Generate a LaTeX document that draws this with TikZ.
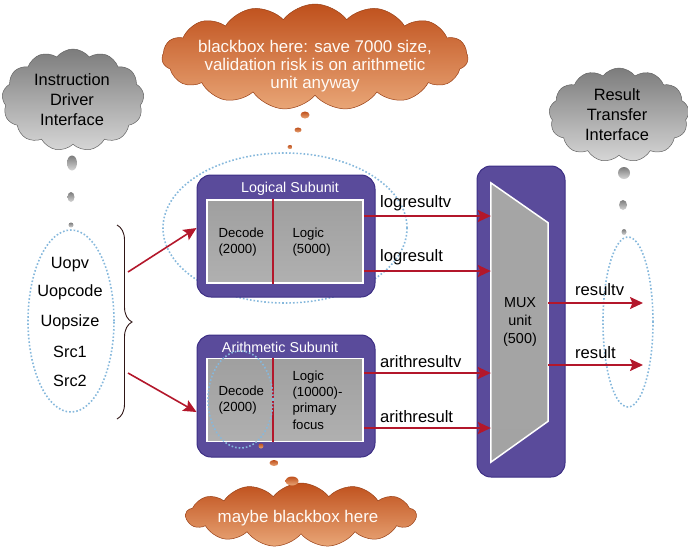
\documentclass[tikz,border=0pt]{standalone}
\usepackage{fontspec}
\setmainfont{Liberation Sans}
\usetikzlibrary{shapes.symbols,shapes.geometric,arrows.meta,decorations.pathreplacing,calc}
\definecolor{purp}{HTML}{5A4B9B}
\definecolor{purpd}{HTML}{3C2E84}
\definecolor{arrred}{HTML}{B3172B}
\definecolor{dotblue}{HTML}{86B8DC}
\definecolor{orD}{HTML}{BF501C}
\definecolor{orL}{HTML}{E9A677}
\definecolor{grD}{HTML}{7C7C7C}
\definecolor{grL}{HTML}{D6D6D6}
\definecolor{bracec}{HTML}{2E1515}
\tikzset{
  gcloud/.style={cloud, cloud puffs=13, cloud puff arc=105, cloud ignores aspect, inner sep=0pt,
    top color=grD, bottom color=grL, draw=grD!80!black, line width=0.5pt},
  ocloud/.style={cloud, cloud puffs=15, cloud puff arc=105, cloud ignores aspect, inner sep=0pt,
    top color=orD, bottom color=orL, draw=orD!80!black, line width=0.5pt},
  gbub/.style={ellipse, inner sep=0pt, top color=grD, bottom color=grL},
  obub/.style={ellipse, inner sep=0pt, top color=orD, bottom color=orL},
  cloudtxt/.style={align=center, font=\fontsize{16.4}{20}\selectfont},
  ocloudtxt/.style={align=center, text=white!96!orange, font=\fontsize{16.9}{18}\selectfont},
  dotell/.style={ellipse, draw=dotblue, dotted, line width=1.6pt, inner sep=0pt},
  subbox/.style={rectangle, rounded corners=14pt, fill=purp, draw=purpd, line width=1pt,
    minimum width=178pt, minimum height=122pt, inner sep=0pt},
  innerbox/.style={rectangle, draw=white, line width=1.5pt, top color=gray!75, middle color=gray!45,
    bottom color=gray!62, minimum width=156pt, minimum height=83pt, inner sep=0pt},
  titletxt/.style={text=white, font=\fontsize{14.3}{17}\selectfont},
  intxt/.style={align=left, anchor=west, font=\fontsize{13.2}{16.3}\selectfont},
  lbl/.style={anchor=west, font=\fontsize{16.6}{19}\selectfont, inner sep=0pt},
  inputtxt/.style={font=\fontsize{16.3}{19}\selectfont},
  arr/.style={draw=arrred, line width=1.9pt, -{Stealth[length=13pt,width=12pt,inset=2.5pt]}},
  redline/.style={draw=arrred, line width=1.3pt},
}
\begin{document}
\begin{tikzpicture}[x=1pt,y=-1pt]
\useasboundingbox (0,0) rectangle (688,547);

% clouds
\node[gcloud, minimum width=142pt, minimum height=102pt] (cin) at (73,100) {};
\node[cloudtxt] (cint) at (72,100) {Instruction\\Driver\\Interface};
\node[gcloud, minimum width=140pt, minimum height=94pt] (cout) at (619,115) {};
\node[cloudtxt] (coutt) at (617,115) {Result\\Transfer\\Interface};
\node[ocloud, minimum width=306pt, minimum height=106pt] (ctop) at (315,57) {};
\node[ocloudtxt] (ctopt) at (315,66) {blackbox here: save 7000 size,\\validation risk is on arithmetic\\unit anyway};
\node[ocloud, cloud puffs=13, minimum width=230pt, minimum height=64pt] (cbot) at (301,515) {};
\node[ocloudtxt] (cbott) at (298,518) {maybe blackbox here};

% bubbles
\node[gbub, minimum width=10pt, minimum height=15pt] (gb1) at (72,163) {};
\node[gbub, minimum width=7pt, minimum height=10pt] (gb2) at (71,197) {};
\node[gbub, minimum width=5pt, minimum height=5pt] (gb3) at (71,225) {};
\node[gbub, minimum width=12pt, minimum height=12pt] (gb4) at (624,173) {};
\node[gbub, minimum width=8pt, minimum height=10pt] (gb5) at (623,205) {};
\node[gbub, minimum width=5pt, minimum height=6pt] (gb6) at (624,232) {};
\node[obub, minimum width=9pt, minimum height=7pt] (ob1) at (305,115) {};
\node[obub, minimum width=7pt, minimum height=5pt] (ob2) at (298,130) {};
\node[obub, minimum width=5pt, minimum height=4pt] (ob3) at (290,147) {};
\node[obub, minimum width=9pt, minimum height=6pt] (ob4) at (274,463) {};
\node[obub, minimum width=13pt, minimum height=9pt] (ob5) at (292,481) {};

% dotted ellipses
\node[dotell, minimum width=86pt, minimum height=182pt] (inell) at (71,321) {};
\node[dotell, minimum width=50pt, minimum height=170pt] (outell) at (628,322) {};
\node[dotell, minimum width=244pt, minimum height=150pt] (logell) at (285,228) {};

% inputs
\node[inputtxt] (u1) at (70,265) {Uopv};
\node[inputtxt] (u2) at (70,292) {Uopcode};
\node[inputtxt] (u3) at (70,322) {Uopsize};
\node[inputtxt] (u4) at (70,352) {Src1};
\node[inputtxt] (u5) at (70,381) {Src2};
\draw[bracec, line width=0.9pt, decorate, decoration={brace, amplitude=15pt, aspect=0.5}] (117,225) -- (117,419);

% logical subunit
\node[subbox] (log) at (286,236) {};
\node[titletxt] (logt) at (290,189) {Logical Subunit};
\node[innerbox] (logi) at (285,241.5) {};
\draw[redline] ([xshift=-12pt]logi.north) -- ([xshift=-12pt]logi.south);
\node[intxt] (logd) at (215,242) {Decode\\(2000)};
\node[intxt] (logl) at (289,242) {Logic\\(5000)};

% arithmetic subunit
\node[subbox] (ari) at (286,396) {};
\node[titletxt] (arit) at (280,347) {Arithmetic Subunit};
\node[innerbox] (arii) at (285,400) {};
\draw[redline] ([xshift=-12pt]arii.north) -- ([xshift=-12pt]arii.south);
\node[intxt] (arid) at (215,400) {Decode\\(2000)};
\node[intxt] (aril) at (289,400) {Logic\\(10000)-\\primary\\focus};
\node[dotell, minimum width=65pt, minimum height=97pt] (ariell) at (240.5,399.5) {};
\node[obub, minimum width=5pt, minimum height=5pt] (ob6) at (261,446) {};

% MUX
\node[rectangle, rounded corners=14pt, fill=purp, draw=purpd, line width=1pt,
  minimum width=88pt, minimum height=311pt, inner sep=0pt] (mux) at (521,321.5) {};
\node[rectangle, minimum width=57pt, minimum height=279pt, inner sep=0pt] (muxin) at (519.5,322.5) {};
\draw[white, line width=1.5pt, top color=gray!70, middle color=gray!42, bottom color=gray!72]
  (muxin.north west) -- ($(muxin.north east)+(0,40)$) -- ($(muxin.south east)+(0,-41)$)
  -- (muxin.south west) -- cycle;
\node[align=center, font=\fontsize{14.4}{18}\selectfont] (muxt) at (520,322) {MUX\\unit\\(500)};

% input arrows
\coordinate (i1) at (128,272);
\coordinate (i2) at (128,373);
\coordinate (e1) at (log.west |- 0,228);
\coordinate (e2) at (ari.west |- 0,412);
\draw[arr, line width=1.6pt] (i1) -- (e1);
\draw[arr, line width=1.6pt] (i2) -- (e2);

% result arrows into MUX
\coordinate (s1) at (logi.east |- 0,216);
\coordinate (s2) at (logi.east |- 0,271);
\coordinate (s3) at (arii.east |- 0,373);
\coordinate (s4) at (arii.east |- 0,428);
\draw[arr] (s1) -- (s1 -| muxin.west);
\draw[arr] (s2) -- (s2 -| muxin.west);
\draw[arr] (s3) -- (s3 -| muxin.west);
\draw[arr] (s4) -- (s4 -| muxin.west);
\node[lbl] (l1) at (380,203) {logresultv};
\node[lbl] (l2) at (380,257) {logresult};
\node[lbl] (l3) at (380,362) {arithresultv};
\node[lbl] (l4) at (380,417) {arithresult};

% outputs
\coordinate (m1) at (muxin.east |- 0,303);
\coordinate (m2) at (muxin.east |- 0,365);
\coordinate (o1) at (643,303);
\coordinate (o2) at (643,365);
\draw[arr] (m1) -- (o1);
\draw[arr] (m2) -- (o2);
\node[lbl] (l5) at (575,290) {resultv};
\node[lbl] (l6) at (575,353) {result};
\end{tikzpicture}
\end{document}
